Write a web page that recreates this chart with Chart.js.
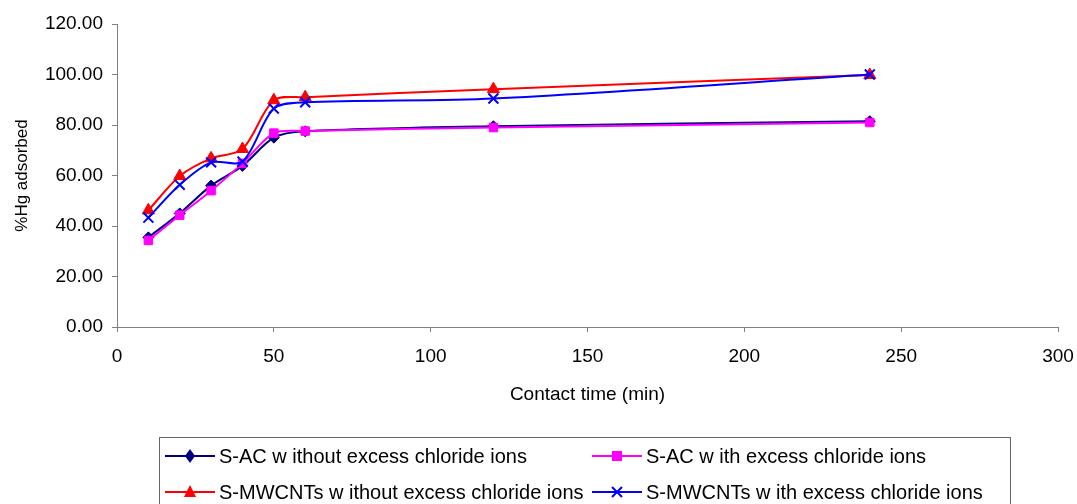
<!DOCTYPE html>
<html>
<head>
<meta charset="utf-8">
<script src="https://cdn.jsdelivr.net/npm/chart.js@4.4.1/dist/chart.umd.min.js"></script>
<style>
  html, body { margin: 0; padding: 0; background: #fff; }
  #wrap { position: relative; width: 1077px; height: 504px; }
  #legend {
    position: absolute; left: 159px; top: 437px; width: 852px; height: 70px;
    border: 1px solid #666; box-sizing: border-box;
    font-family: "Liberation Sans", Arial, sans-serif; font-size: 20px; color: #000;
  }
  .item { position: absolute; display: flex; align-items: center; height: 24px; white-space: nowrap; }
  .item svg { margin-right: 4px; }
</style>
</head>
<body>
<div id="wrap">
  <canvas id="myLineChart" width="1077" height="504"></canvas>
  <div id="legend"></div>
</div>
<script>
// contact time (min)
const times = [10, 20, 30, 40, 50, 60, 120, 240];

// % Hg adsorbed
const sacWithout = [35.5, 45.0, 56.0, 63.8, 75.0, 77.5, 79.5, 81.5];
const sacWith = [34.3, 44.3, 54.0, 64.8, 76.8, 77.6, 79.0, 81.0];
const mwWithout = [46.2, 59.8, 66.8, 70.5, 89.8, 91.0, 94.2, 99.8];
const mwWith = [43.3, 56.3, 65.2, 65.5, 86.5, 89.0, 90.5, 100.0];

const seriesNames = [
  'S-AC w ithout excess chloride ions',
  'S-AC w ith excess chloride ions',
  'S-MWCNTs w ithout excess chloride ions',
  'S-MWCNTs w ith excess chloride ions'
];

const yTicks = [0, 20, 40, 60, 80, 100, 120];
const xTicks = [0, 50, 100, 150, 200, 250, 300];

function pts(vals) {
  return times.map((t, i) => ({x: t, y: vals[i]}));
}

const font = "'Liberation Sans', Arial, sans-serif";
const axisGray = '#808080';

var ctx = document.getElementById('myLineChart');
var myChart = new Chart(ctx, {
  type: 'line',
  data: {
    datasets: [{
      label: seriesNames[0],
      data: pts(sacWithout),
      borderColor: '#000080',
      backgroundColor: '#000080',
      pointStyle: 'rectRot',
      pointRadius: 5.5,
      order: 3
    }, {
      label: seriesNames[1],
      data: pts(sacWith),
      borderColor: '#FF00FF',
      backgroundColor: '#FF00FF',
      pointStyle: 'rect',
      pointRadius: 6,
      order: 2
    }, {
      label: seriesNames[2],
      data: pts(mwWithout),
      borderColor: '#FF0000',
      backgroundColor: '#FF0000',
      pointStyle: 'triangle',
      pointRadius: 7,
      order: 1
    }, {
      label: seriesNames[3],
      data: pts(mwWith),
      borderColor: '#0000FF',
      backgroundColor: '#0000FF',
      pointStyle: 'crossRot',
      pointRadius: 7,
      pointBorderWidth: 2,
      order: 0
    }]
  },
  options: {
    responsive: false,
    animation: false,
    devicePixelRatio: 1,
    elements: {
      line: { borderWidth: 2, tension: 0.3, fill: false },
      point: { borderWidth: 1 }
    },
    layout: { padding: { top: 24, right: 2, bottom: 98, left: 0 } },
    plugins: {
      legend: { display: false },
      tooltip: { enabled: false }
    },
    scales: {
      x: {
        type: 'linear',
        min: 0,
        max: 300,
        afterBuildTicks: s => { s.ticks = xTicks.map(v => ({value: v})); },
        afterFit: s => { s.height = 79; s.paddingRight = 19; },
        grid: { drawOnChartArea: false, drawTicks: true, tickLength: 5, color: axisGray },
        border: { display: true, color: axisGray, width: 1 },
        ticks: { color: '#000', font: { family: font, size: 19 }, padding: 13, maxRotation: 0 },
        title: {
          display: true,
          text: 'Contact time (min)',
          color: '#000',
          font: { family: font, size: 19 },
          padding: { top: 0, bottom: 0 }
        }
      },
      y: {
        min: 0,
        max: 120,
        afterBuildTicks: s => { s.ticks = yTicks.map(v => ({value: v})); },
        afterFit: s => { s.width = 117; },
        grid: { drawOnChartArea: false, drawTicks: true, tickLength: 5, color: axisGray },
        border: { display: true, color: axisGray, width: 1 },
        ticks: {
          color: '#000',
          font: { family: font, size: 19 },
          padding: 9,
          callback: v => Number(v).toFixed(2)
        },
        title: {
          display: true,
          text: '%Hg adsorbed',
          color: '#000',
          font: { family: font, size: 17 },
          padding: { top: 12, bottom: 0 }
        }
      }
    }
  }
});

// legend drawn in html so the line-marker-line keys look like the original
function symbol(ds) {
  const c = ds.borderColor;
  let m = '';
  if (ds.pointStyle === 'rectRot') {
    m = '<polygon points="25,5 30,12 25,19 20,12" fill="' + c + '"/>';
  } else if (ds.pointStyle === 'rect') {
    m = '<rect x="20" y="7" width="10" height="10" fill="' + c + '"/>';
  } else if (ds.pointStyle === 'triangle') {
    m = '<polygon points="25,5 31,17 19,17" fill="' + c + '"/>';
  } else {
    m = '<path d="M20,7 L30,17 M30,7 L20,17" stroke="' + c + '" stroke-width="2"/>';
  }
  return '<svg width="50" height="24"><line x1="0" y1="12" x2="50" y2="12" stroke="' + c + '" stroke-width="2"/>' + m + '</svg>';
}

const legendPos = [[5, 6], [432, 6], [5, 42], [432, 42]];
const legendEl = document.getElementById('legend');
myChart.data.datasets.forEach((ds, i) => {
  const div = document.createElement('div');
  div.className = 'item';
  div.style.left = legendPos[i][0] + 'px';
  div.style.top = legendPos[i][1] + 'px';
  div.innerHTML = symbol(ds) + '<span>' + ds.label + '</span>';
  legendEl.appendChild(div);
});
</script>
</body>
</html>
